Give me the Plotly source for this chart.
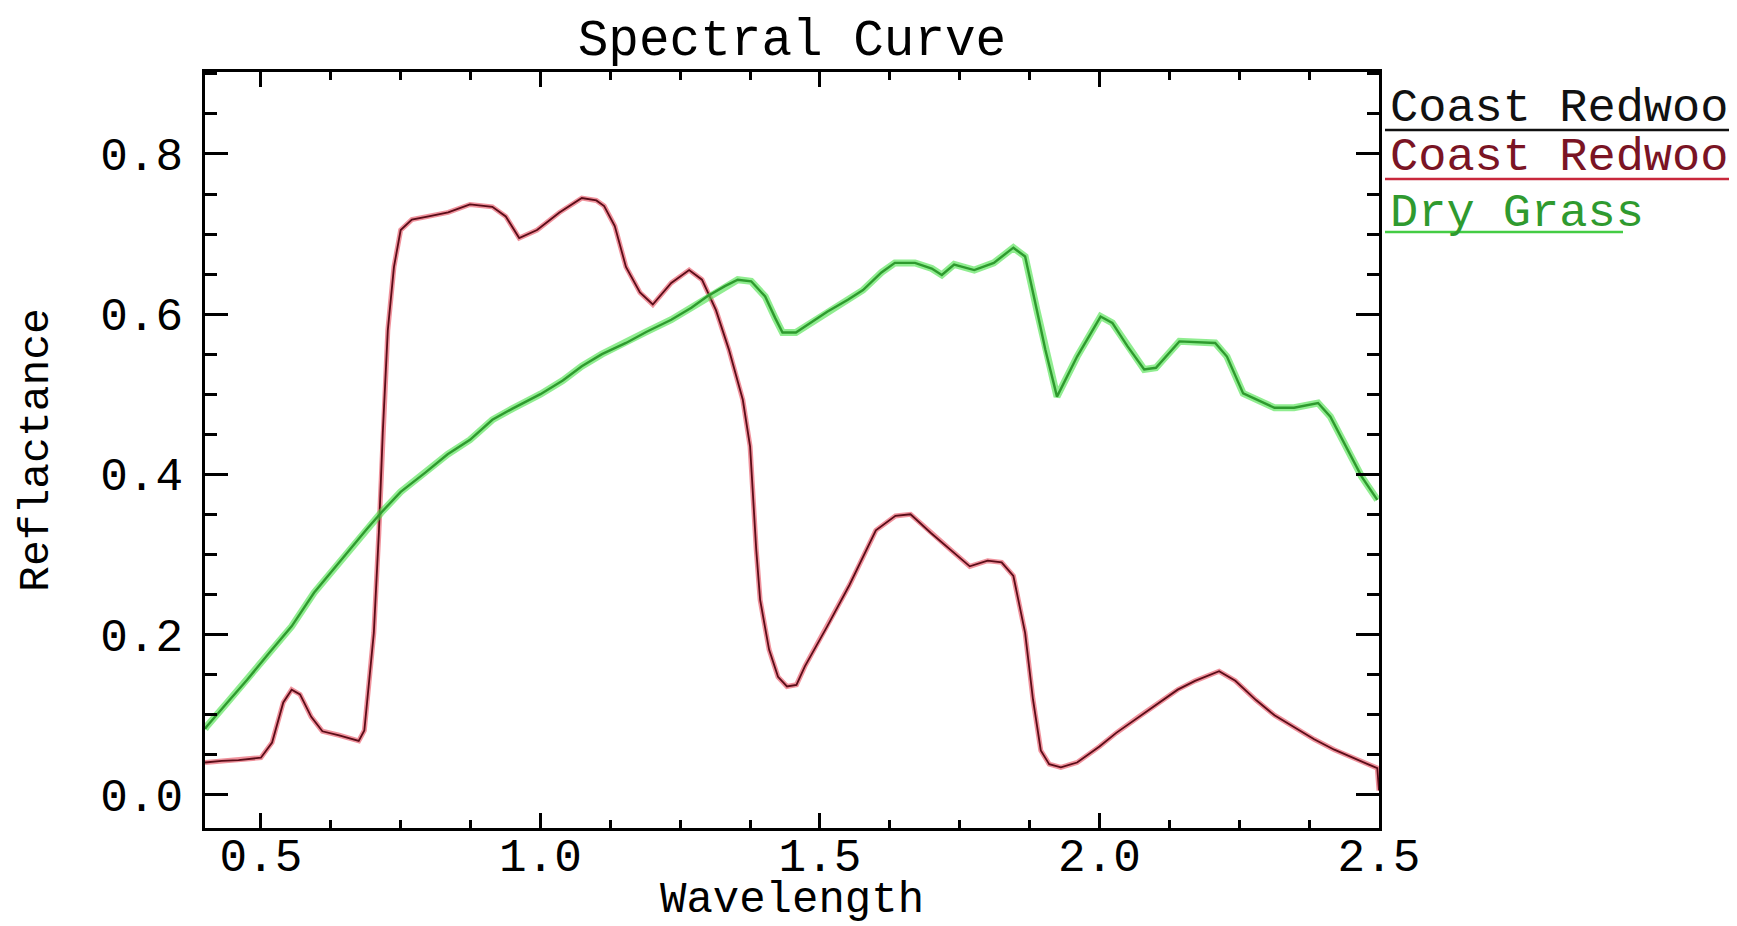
import plotly.graph_objects as go

# ---- data ----
redwood_x = [0.40, 0.43, 0.46, 0.50, 0.52, 0.54, 0.555, 0.57, 0.59, 0.61, 0.64, 0.675, 0.685, 0.69,
             0.702, 0.711, 0.718, 0.727, 0.738, 0.750, 0.770, 0.800, 0.835, 0.874, 0.914, 0.938,
             0.962, 0.994, 1.034, 1.074, 1.100, 1.114, 1.133, 1.153, 1.178, 1.201, 1.234, 1.266,
             1.289, 1.314, 1.337, 1.362, 1.375, 1.386, 1.393, 1.409, 1.425, 1.441, 1.458, 1.473,
             1.513, 1.553, 1.600, 1.635, 1.662, 1.698, 1.735, 1.768, 1.800, 1.825, 1.846, 1.867,
             1.881, 1.895, 1.910, 1.931, 1.960, 2.000, 2.030, 2.070, 2.101, 2.140, 2.171, 2.214,
             2.243, 2.280, 2.313, 2.350, 2.384, 2.420, 2.455, 2.483, 2.497, 2.500]
redwood_y = [0.040, 0.042, 0.043, 0.046, 0.065, 0.115, 0.131, 0.125, 0.097, 0.079, 0.074, 0.067, 0.080, 0.118,
             0.202, 0.327, 0.452, 0.580, 0.659, 0.705, 0.718, 0.722, 0.727, 0.737, 0.734, 0.722,
             0.695, 0.705, 0.727, 0.745, 0.742, 0.735, 0.710, 0.659, 0.627, 0.612, 0.639, 0.655,
             0.643, 0.605, 0.556, 0.493, 0.435, 0.306, 0.243, 0.181, 0.147, 0.135, 0.137, 0.160,
             0.210, 0.262, 0.330, 0.348, 0.350, 0.327, 0.305, 0.285, 0.292, 0.290, 0.273, 0.202,
             0.119, 0.055, 0.038, 0.034, 0.040, 0.060, 0.077, 0.097, 0.112, 0.131, 0.142, 0.154,
             0.142, 0.118, 0.099, 0.083, 0.069, 0.056, 0.045, 0.037, 0.033, 0.005]

grass_x = [0.400, 0.403, 0.440, 0.475, 0.515, 0.555, 0.595, 0.630, 0.659, 0.690, 0.715, 0.750, 0.794,
           0.834, 0.874, 0.914, 0.950, 0.978, 1.000, 1.040, 1.074, 1.110, 1.153, 1.190, 1.234, 1.270,
           1.298, 1.330, 1.353, 1.377, 1.402, 1.420, 1.433, 1.457, 1.490, 1.513, 1.550, 1.577, 1.610,
           1.634, 1.670, 1.700, 1.718, 1.740, 1.776, 1.811, 1.846, 1.867, 1.888, 1.903, 1.924, 1.960,
           2.002, 2.023, 2.050, 2.080, 2.101, 2.143, 2.207, 2.228, 2.257, 2.313, 2.348, 2.391, 2.413,
           2.440, 2.469, 2.497]
grass_y = [0.082, 0.085, 0.115, 0.143, 0.177, 0.210, 0.252, 0.282, 0.306, 0.332, 0.352, 0.378, 0.402,
           0.425, 0.443, 0.468, 0.482, 0.492, 0.500, 0.517, 0.535, 0.550, 0.564, 0.578, 0.593, 0.608,
           0.622, 0.635, 0.643, 0.641, 0.622, 0.595, 0.577, 0.577, 0.592, 0.603, 0.618, 0.630, 0.652,
           0.664, 0.664, 0.657, 0.649, 0.662, 0.655, 0.664, 0.683, 0.672, 0.605, 0.556, 0.497, 0.547,
           0.597, 0.589, 0.560, 0.531, 0.533, 0.566, 0.564, 0.547, 0.501, 0.483, 0.483, 0.489, 0.472,
           0.435, 0.397, 0.368]

# legend labels as visible in the reference (the canvas edge cuts the last letter)
legend_labels = ["Coast Redwoo", "Coast Redwoo", "Dry Grass"]
legend_text_colors = ["#111111", "#7a1424", "#2f9a2f"]
legend_line_colors = ["#111111", "#c8283c", "#44cc44"]

x_range = [0.4, 2.5]
y_range = [-0.0418, 0.9024]

FONT = "Liberation Mono"
OFF = 8                      # default page margin of the html body
W, H = 1737 - OFF, 926 - OFF  # figure fills the window from the body offset
# plot frame, in window pixels
L_S, R_S, T_S, B_S = 205, 1379, 72, 828
L, R, T, B = L_S - OFF, R_S - OFF, T_S - OFF, B_S - OFF


def px_x(p):
    """window x pixel -> paper fraction"""
    return (p - OFF - L) / (R - L)


def px_y(p):
    """window y pixel -> paper fraction"""
    return (B - (p - OFF)) / (B - T)


fig = go.Figure()
# red halo + dark core for Coast Redwood
fig.add_trace(go.Scatter(x=redwood_x, y=redwood_y, mode="lines", name=legend_labels[1],
                         line=dict(color="rgba(225,40,60,0.5)", width=5), hoverinfo="skip"))
fig.add_trace(go.Scatter(x=redwood_x, y=redwood_y, mode="lines", name=legend_labels[0],
                         line=dict(color="#5a0c18", width=1.8)))
# green halo + core for Dry Grass
fig.add_trace(go.Scatter(x=grass_x, y=grass_y, mode="lines", name=legend_labels[2] + " halo",
                         line=dict(color="rgba(70,225,70,0.6)", width=7), hoverinfo="skip"))
fig.add_trace(go.Scatter(x=grass_x, y=grass_y, mode="lines", name=legend_labels[2],
                         line=dict(color="#2e9a2e", width=2.4)))

# IDL-style legend: text with a coloured underline (window pixel positions)
text_centers = [108, 157, 214]
line_ys = [130, 179, 232]
line_ends = [1760, 1760, 1623]
for lab, tc, lc, ty, ly, le in zip(legend_labels, legend_text_colors, legend_line_colors,
                                   text_centers, line_ys, line_ends):
    fig.add_annotation(x=px_x(1388), y=px_y(ty), xref="paper", yref="paper", text=lab,
                       showarrow=False, xanchor="left", yanchor="middle",
                       font=dict(family=FONT, size=47, color=tc))
    fig.add_shape(type="line", xref="paper", yref="paper", x0=px_x(1385), x1=px_x(le),
                  y0=px_y(ly), y1=px_y(ly), line=dict(color=lc, width=2.5))

axis_common = dict(showline=True, linewidth=2.5, linecolor="black", mirror="allticks",
                   ticks="inside", tickwidth=2.5, tickcolor="black", showgrid=False,
                   zeroline=False, tickformat=".1f",
                   tickfont=dict(family=FONT, size=46, color="black"))

fig.update_xaxes(range=x_range, tick0=0.5, dtick=0.5, ticklen=15, ticklabelstandoff=-15,
                 minor=dict(ticks="inside", tick0=0.5, dtick=0.125, ticklen=8, tickwidth=2.5,
                            tickcolor="black", showgrid=False),
                 **axis_common)
fig.update_yaxes(range=y_range, tick0=0.0, dtick=0.2, ticklen=23, ticklabelstandoff=10,
                 minor=dict(ticks="inside", tick0=0.0, dtick=0.05, ticklen=12, tickwidth=2.5,
                            tickcolor="black", showgrid=False),
                 title=dict(text="Reflactance", font=dict(family=FONT, size=43, color="black"),
                            standoff=39),
                 **axis_common)

# x-axis title placed as an annotation just below the tick labels
fig.add_annotation(x=0.5, y=px_y(900), xref="paper", yref="paper", text="Wavelength",
                   showarrow=False, xanchor="center", yanchor="middle",
                   font=dict(family=FONT, size=44, color="black"))

fig.update_layout(
    width=W, height=H,
    margin=dict(l=L, r=W - R, t=T, b=H - B),
    paper_bgcolor="white", plot_bgcolor="white",
    showlegend=False,
    title=dict(text="Spectral Curve", x=0.5, xref="paper", xanchor="center",
               y=1 - (37 - OFF) / H, yref="container", yanchor="middle",
               font=dict(family=FONT, size=51, color="black")),
)

fig.write_html("out.html")
